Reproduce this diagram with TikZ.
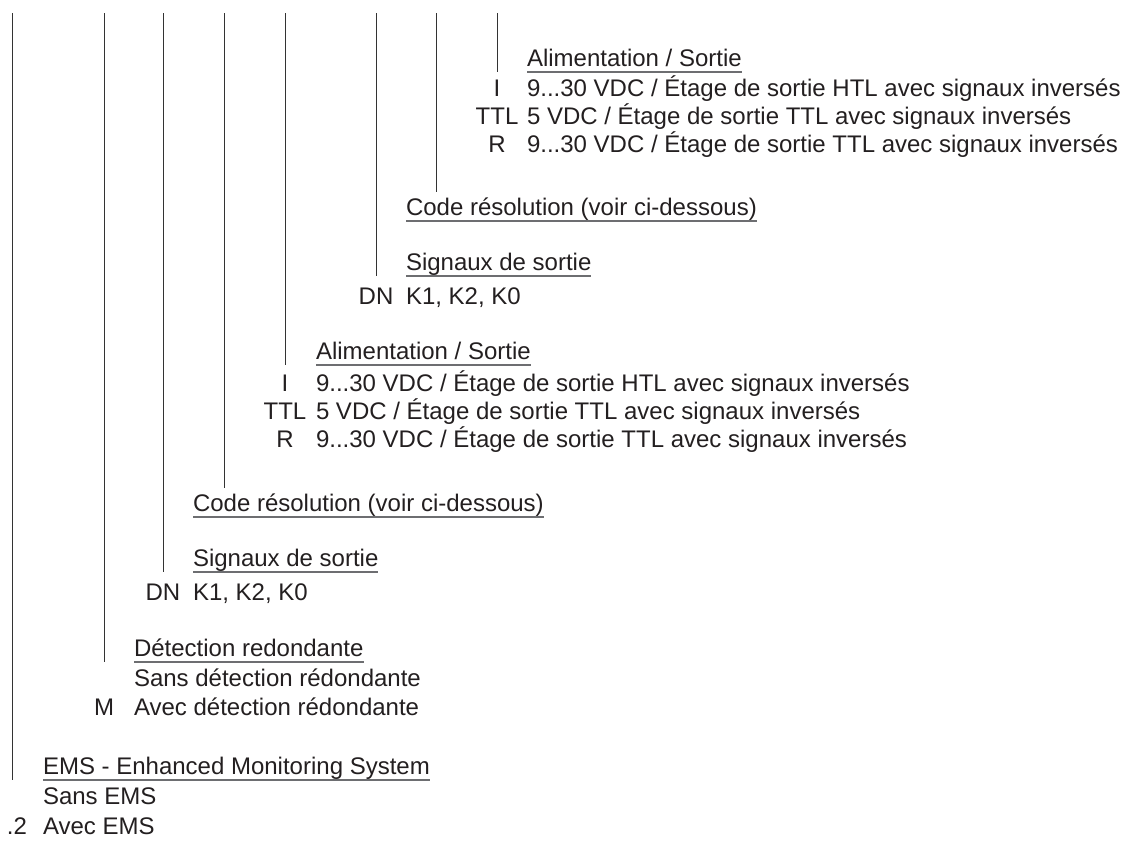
\documentclass[tikz,border=0pt]{standalone}
\usepackage{fontspec}
\setmainfont{Liberation Sans}
\definecolor{txt}{HTML}{231F20}
\definecolor{vline}{HTML}{333333}
\definecolor{uline}{HTML}{6D6E71}
\begin{document}
\begin{tikzpicture}[x=1pt,y=-1pt,
  lbl/.style={anchor=base west,inner sep=0pt,outer sep=0pt,text=txt,font=\fontsize{24}{28}\selectfont},
  code/.style={anchor=base,inner sep=0pt,outer sep=0pt,text=txt,font=\fontsize{24}{28}\selectfont},
  vl/.style={draw=vline,line width=1pt},
  ul/.style={draw=uline,line width=1.3pt}]
\useasboundingbox (0,0) rectangle (1123,841);

% ---------- upper group ----------
\node[lbl] (hAU) at (527,66) {Alimentation / Sortie};
\node[code] (cIU) at (497,96) {I};
\node[lbl] (tIU) at (527,96) {9...30 VDC / Étage de sortie HTL avec signaux inversés};
\node[code] (cTU) at (497,124) {TTL};
\node[lbl] (tTU) at (527,124) {5 VDC / Étage de sortie TTL avec signaux inversés};
\node[code] (cRU) at (497,152) {R};
\node[lbl] (tRU) at (527,152) {9...30 VDC / Étage de sortie TTL avec signaux inversés};
\node[lbl] (hCU) at (406,215) {Code résolution (voir ci-dessous)};
\node[lbl] (hSU) at (406,270) {Signaux de sortie};
\node[code] (cDU) at (376,304) {DN};
\node[lbl] (tDU) at (406,304) {K1, K2, K0};

% ---------- lower group ----------
\node[lbl] (hAL) at (316,359) {Alimentation / Sortie};
\node[code] (cIL) at (285,391) {I};
\node[lbl] (tIL) at (316,391) {9...30 VDC / Étage de sortie HTL avec signaux inversés};
\node[code] (cTL) at (285,419) {TTL};
\node[lbl] (tTL) at (316,419) {5 VDC / Étage de sortie TTL avec signaux inversés};
\node[code] (cRL) at (285,447) {R};
\node[lbl] (tRL) at (316,447) {9...30 VDC / Étage de sortie TTL avec signaux inversés};
\node[lbl] (hCL) at (193,511) {Code résolution (voir ci-dessous)};
\node[lbl] (hSL) at (193,566) {Signaux de sortie};
\node[code] (cDL) at (163,600) {DN};
\node[lbl] (tDL) at (193,600) {K1, K2, K0};

% ---------- redundancy ----------
\node[lbl] (hDet) at (134,656) {Détection redondante};
\node[lbl] (tSD) at (134,686) {Sans détection rédondante};
\node[code] (cM) at (104,715) {M};
\node[lbl] (tM) at (134,715) {Avec détection rédondante};

% ---------- EMS ----------
\node[lbl] (hEMS) at (43,774) {EMS - Enhanced Monitoring System};
\node[lbl] (tSE) at (43,804) {Sans EMS};
\node[code] (c2) at (17,834) {.2};
\node[lbl] (tAE) at (43,834) {Avec EMS};

% underlines
\foreach \n in {hAU,hCU,hSU,hAL,hCL,hSL,hDet,hEMS}
  \draw[ul] ([yshift=-6pt]\n.base west) -- ([yshift=-6pt]\n.base east);

% vertical lines
\coordinate (t1) at (12,13);  \coordinate (b1) at (12,780);
\coordinate (t2) at (104,13); \coordinate (b2) at (104,662);
\coordinate (t3) at (163,13); \coordinate (b3) at (163,572);
\coordinate (t4) at (224,13); \coordinate (b4) at (224,488);
\coordinate (t5) at (285,13); \coordinate (b5) at (285,365);
\coordinate (t6) at (376,13); \coordinate (b6) at (376,276);
\coordinate (t7) at (436,13); \coordinate (b7) at (436,192);
\coordinate (t8) at (497,13); \coordinate (b8) at (497,72);
\foreach \i in {1,...,8} \draw[vl] (t\i) -- (b\i);
\end{tikzpicture}
\end{document}
